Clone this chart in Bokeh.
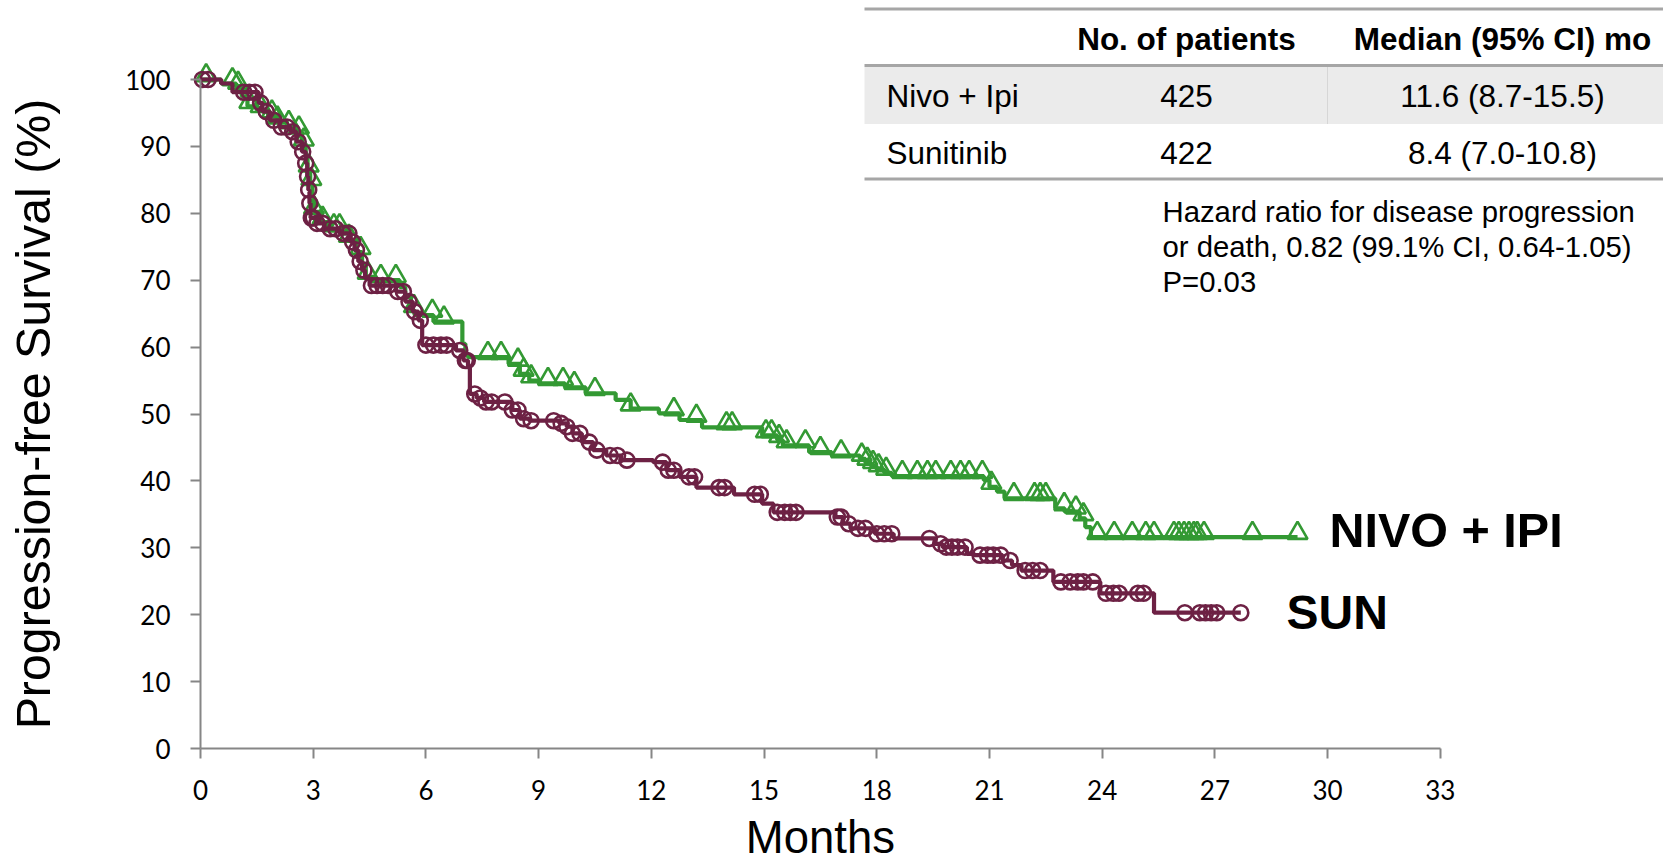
import numpy as np
from bokeh.plotting import figure
from bokeh.models import Range1d, FixedTicker, Label, ColumnDataSource
from bokeh.transform import dodge
from bokeh.embed import file_html
from bokeh.resources import INLINE

# ---------------------------------------------------------------------------
# Kaplan-Meier data: months of each drop and survival (%) right after it
# ---------------------------------------------------------------------------
nivo_event_months = [0.55, 0.95, 1.1, 1.25, 1.5, 1.8, 2.05, 2.3, 2.55, 2.7, 2.8, 2.85,
                     2.92, 2.98, 3.02, 3.2, 3.45, 3.75, 3.95, 4.15, 4.3, 4.4, 4.6, 5.3,
                     5.45, 5.6, 5.7, 6.2, 6.97, 7.05, 7.12, 8.2, 8.5, 8.75, 9.0, 9.7,
                     10.25, 11.05, 11.45, 12.2, 12.75, 13.35, 14.95, 15.35, 15.5, 16.2,
                     16.8, 17.55, 17.7, 17.85, 18.0, 18.2, 18.4, 20.85, 21.0, 21.2, 21.4,
                     22.75, 23.0, 23.4, 23.55, 23.7]
nivo_event_surv = [99.4, 98.9, 97.5, 96.0, 95.4, 94.6, 93.7, 93.0, 92.2, 90.4, 88.7, 86.5,
                   84.5, 82.5, 80.2, 78.7, 77.6, 77.0, 76.0, 74.2, 72.2, 70.5, 70.0, 69.0,
                   67.5, 65.5, 64.8, 63.8, 60.5, 59.0, 58.5, 57.5, 56.0, 55.0, 54.6, 54.0,
                   53.1, 52.1, 50.8, 50.1, 49.1, 48.0, 46.8, 46.1, 45.3, 44.3,
                   43.8, 43.3, 42.7, 42.2, 41.7, 41.2, 40.7, 40.1, 39.1, 38.4, 37.4,
                   35.9, 35.4, 34.4, 33.1, 31.6]
nivo_last_followup = 29.2
nivo_censor_months = [0.15, 0.85, 1.0, 1.3, 1.6, 1.9, 2.05, 2.35, 2.62, 2.75, 2.88, 2.95,
                      3.02, 3.25, 3.55, 3.7, 3.95, 4.26, 4.45, 4.8, 5.2, 5.68, 6.17, 6.48,
                      7.65, 8.0, 8.45, 8.6, 8.8, 9.25, 9.65, 9.95, 10.5, 11.45, 12.6, 13.2,
                      14.0, 14.15, 15.05, 15.2, 15.4, 15.6, 16.1, 16.5, 17.05, 17.6, 17.75,
                      17.9, 18.05, 18.25, 18.68, 19.08, 19.35, 19.57, 19.97, 20.23, 20.46,
                      20.81, 21.05, 21.65, 22.2, 22.35, 22.5, 22.99, 23.3, 23.5, 23.87,
                      24.32, 24.8, 25.16, 25.38, 25.91, 26.04, 26.18, 26.31, 26.44, 26.53,
                      26.71, 28.0, 29.2]

sun_event_months = [0.55, 0.85, 1.55, 1.65, 1.85, 2.1, 2.4, 2.55, 2.7, 2.8, 2.84, 2.87,
                    2.9, 2.93, 3.1, 3.3, 3.7, 4.0, 4.1, 4.2, 4.3, 4.38, 4.5, 5.2, 5.45,
                    5.65, 5.8, 5.9, 6.8, 7.0, 7.12, 7.17, 7.35, 7.55, 8.3, 8.5, 8.75,
                    9.55, 9.75, 9.9, 10.15, 10.45, 10.8, 11.2, 12.05, 12.4, 12.75, 13.2,
                    14.2, 14.95, 15.25, 16.9, 17.1, 17.3, 17.95, 18.45, 19.55, 19.75,
                    20.4, 20.6, 21.35, 21.6, 21.85, 22.7, 23.95, 25.38]
sun_event_surv = [99.4, 98.1, 96.5, 95.2, 93.9, 92.9, 92.2, 90.7, 89.2, 87.5, 85.5, 83.5,
                  81.5, 79.3, 78.5, 77.7, 77.0, 75.7, 74.5, 72.8, 71.5, 70.3, 69.2, 68.3,
                  66.8, 65.3, 64.0, 60.3, 59.5, 58.0, 57.0, 53.0, 52.4, 51.8, 50.6, 49.3,
                  49.0, 48.6, 48.1, 47.1, 45.8, 44.6, 43.8, 43.1, 42.8, 41.6, 40.6, 39.0,
                  38.0, 36.6, 35.3, 34.6, 33.6, 32.9, 32.1, 31.4, 30.6, 30.1,
                  29.1, 28.9, 28.1, 27.4, 26.6, 24.9, 23.2, 20.3]
sun_last_followup = 27.69
sun_censor_months = [0.05, 0.2, 1.15, 1.3, 1.45, 1.6, 1.75, 1.95, 2.15, 2.3, 2.45, 2.6,
                     2.72, 2.8, 2.85, 2.88, 2.91, 2.95, 3.0, 3.1, 3.25, 3.45, 3.6, 3.8,
                     3.95, 4.05, 4.15, 4.25, 4.35, 4.55, 4.7, 4.85, 5.0, 5.25, 5.4, 5.55,
                     5.7, 5.85, 6.0, 6.2, 6.4, 6.55, 6.9, 7.05, 7.1, 7.3, 7.45, 7.6, 7.75,
                     8.1, 8.3, 8.45, 8.6, 8.8, 9.4, 9.6, 9.75, 9.9, 10.1, 10.35, 10.55,
                     10.9, 11.1, 11.35, 12.3, 12.45, 12.6, 13.0, 13.15, 13.8, 13.95, 14.75,
                     14.9, 15.35, 15.55, 15.7, 15.85, 16.95, 17.05, 17.25, 17.5, 17.7,
                     18.0, 18.2, 18.4, 19.4, 19.7, 19.85, 20.0, 20.15, 20.35, 20.75, 20.95,
                     21.1, 21.3, 21.55, 21.95, 22.15, 22.35, 22.9, 23.15, 23.35, 23.5,
                     23.75, 24.1, 24.3, 24.45, 24.95, 25.1, 26.2, 26.6, 26.75, 26.9, 27.05,
                     27.69]

x_ticks = list(range(0, 34, 3))
y_ticks = list(range(0, 101, 10))

table_header = ["No. of patients", "Median (95% CI) mo"]
arm_names = ["Nivo + Ipi", "Sunitinib"]
arm_patients = ["425", "422"]
arm_medians = ["11.6 (8.7-15.5)", "8.4 (7.0-10.8)"]
hazard_lines = ["Hazard ratio for disease progression",
                "or death, 0.82 (99.1% CI, 0.64-1.05)",
                "P=0.03"]

NIVO_COLOR = "#339933"
SUN_COLOR = "#6D2144"
AXIS_COLOR = "#868686"
RULE_COLOR = "#A6A6A6"

# ---------------------------------------------------------------------------
# Page geometry (pixels): the plotting frame covers the whole canvas and the
# axes are pinned at month 0 / 0 %, so every text lives inside the frame.
# ---------------------------------------------------------------------------
W, H = 1663, 863
AXIS_X_PX, AXIS_Y_PX = 200, 748          # page position of the (0, 0) corner
PX_PER_MONTH, PX_PER_PCT = 37.57, 6.69


def to_x(px):
    return (px - AXIS_X_PX) / PX_PER_MONTH


def to_y(py):
    return (AXIS_Y_PX - py) / PX_PER_PCT


def km_path(ev_t, ev_s, end):
    xs = [0.0] + list(ev_t) + [end]
    ys = [100.0] + list(ev_s) + [ev_s[-1]]
    return xs, ys


def surv_at(times, ev_t, ev_s):
    idx = np.searchsorted(np.asarray(ev_t), np.asarray(times), side="right")
    s = np.concatenate([[100.0], np.asarray(ev_s)])
    return s[idx]


p = figure(width=W, height=H,
           x_range=Range1d(to_x(0), to_x(W)), y_range=Range1d(to_y(H), to_y(0)),
           min_border=0, output_backend="svg", toolbar_location=None)
p.outline_line_color = None
p.grid.visible = False
p.background_fill_color = "white"
p.border_fill_color = "white"

for ax, ticks, bounds, standoff in ((p.xaxis, x_ticks, (0, 33), 21),
                                    (p.yaxis, y_ticks, (0, 100), 20)):
    ax.fixed_location = 0
    ax.ticker = FixedTicker(ticks=ticks)
    ax.bounds = bounds
    ax.axis_line_color = AXIS_COLOR
    ax.axis_line_width = 2
    ax.major_tick_line_color = AXIS_COLOR
    ax.major_tick_line_width = 2
    ax.major_tick_in = 0
    ax.major_tick_out = 10
    ax.minor_tick_line_color = None
    ax.major_label_text_font = "Lato"
    ax.major_label_text_font_size = "26px"
    ax.major_label_text_color = "black"
    ax.major_label_standoff = standoff

# Axis titles, centred on the 0-33 month span and the 0-100 % span
p.add_layout(Label(x=16.5, y=to_y(836.5), text="Months", text_font="Liberation Sans",
                   text_font_size="45.5px", text_align="center",
                   text_baseline="middle", text_color="black"))
p.add_layout(Label(x=to_x(32), y=50, text="Progression-free Survival (%)",
                   text_font="Liberation Sans", text_font_size="48.3px",
                   text_align="center", text_baseline="middle", angle=np.pi / 2,
                   text_color="black"))

# ---------------------------------------------------------------------------
# Summary table and hazard ratio note (top right)
# ---------------------------------------------------------------------------
TX0, TX1 = 864, W
p.quad(left=[to_x(TX0)], right=[to_x(TX1)], top=[to_y(66.5)], bottom=[to_y(123.5)],
       fill_color="#EBEBEB", line_color=None)
p.segment(x0=[to_x(1327)], x1=[to_x(1327)], y0=[to_y(66.5)], y1=[to_y(123.5)],
          line_color="#D6D6D6", line_width=1)
p.segment(x0=[to_x(TX0)] * 3, x1=[to_x(TX1)] * 3,
          y0=[to_y(8.5), to_y(65), to_y(178.5)], y1=[to_y(8.5), to_y(65), to_y(178.5)],
          line_color=RULE_COLOR, line_width=3)

TABLE_FONT = "Liberation Sans"
for text, cx in zip(table_header, (1186, 1502)):
    p.add_layout(Label(x=to_x(cx), y=to_y(38), text=text, text_font=TABLE_FONT,
                       text_font_size="31.5px", text_font_style="bold",
                       text_align="center", text_baseline="middle", text_color="black"))
for row_y, name, n, med in zip((95, 152), arm_names, arm_patients, arm_medians):
    p.add_layout(Label(x=to_x(886), y=to_y(row_y), text=name, text_font=TABLE_FONT,
                       text_font_size="31.5px", text_align="left",
                       text_baseline="middle", text_color="black"))
    p.add_layout(Label(x=to_x(1186), y=to_y(row_y), text=n, text_font=TABLE_FONT,
                       text_font_size="31.5px", text_align="center",
                       text_baseline="middle", text_color="black"))
    p.add_layout(Label(x=to_x(1502), y=to_y(row_y), text=med, text_font=TABLE_FONT,
                       text_font_size="31.5px", text_align="center",
                       text_baseline="middle", text_color="black"))
for line_y, text in zip((211, 246, 281), hazard_lines):
    p.add_layout(Label(x=to_x(1162), y=to_y(line_y), text=text, text_font=TABLE_FONT,
                       text_font_size="29.3px", text_align="left",
                       text_baseline="middle", text_color="black"))

# ---------------------------------------------------------------------------
# Survival curves with censor marks
# ---------------------------------------------------------------------------
nx, ny = km_path(nivo_event_months, nivo_event_surv, nivo_last_followup)
p.step(nx, ny, mode="after", line_color=NIVO_COLOR, line_width=4.2)
nivo_cens = ColumnDataSource(dict(
    x=nivo_censor_months,
    y=surv_at(nivo_censor_months, nivo_event_months, nivo_event_surv)))
p.scatter(x="x", y=dodge("y", 0.6, range=p.y_range), source=nivo_cens,
          marker="triangle", size=20, fill_color=None,
          line_color=NIVO_COLOR, line_width=2.6)

sx, sy = km_path(sun_event_months, sun_event_surv, sun_last_followup)
p.step(sx, sy, mode="after", line_color=SUN_COLOR, line_width=4.2)
sun_cens = ColumnDataSource(dict(
    x=sun_censor_months,
    y=surv_at(sun_censor_months, sun_event_months, sun_event_surv)))
p.scatter(x="x", y="y", source=sun_cens, marker="circle", size=15,
          fill_color=None, line_color=SUN_COLOR, line_width=2.6)

# Arm labels at the end of each curve
p.add_layout(Label(x=to_x(1329), y=nivo_event_surv[-1] + 1.0, text="NIVO + IPI",
                   text_font="Liberation Sans", text_font_size="48.5px",
                   text_font_style="bold", text_align="left", text_baseline="middle",
                   text_color="black"))
p.add_layout(Label(x=to_x(1286), y=sun_event_surv[-1], text="SUN",
                   text_font="Liberation Sans", text_font_size="48px",
                   text_font_style="bold", text_align="left", text_baseline="middle",
                   text_color="black"))

open("out.html", "w").write(file_html(p, INLINE))
